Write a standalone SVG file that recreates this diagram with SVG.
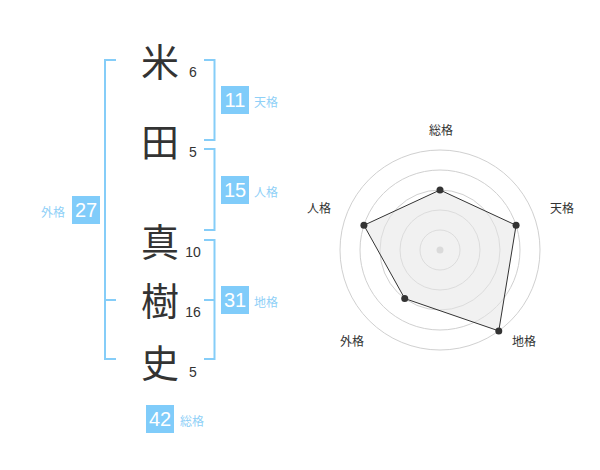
<svg xmlns="http://www.w3.org/2000/svg" width="600" height="470" viewBox="0 0 600 470">
<style>
.kanji{font-family:"Noto Sans CJK JP","Noto Sans CJK SC",sans-serif;font-size:38px;fill:#333;text-anchor:middle}
.stroke{font-family:"Liberation Sans",Arial,sans-serif;font-size:14px;fill:#333;text-anchor:middle}
.br{fill:none;stroke:#85cdf8;stroke-width:2}
.box{fill:#80ccfa}
.bnum{font-family:"Liberation Sans",Arial,sans-serif;font-size:20px;fill:#fff;text-anchor:middle}
.blab{font-family:"Noto Sans CJK JP",sans-serif;font-size:12px;fill:#8fd0f7}
.grid{fill:none;stroke:#d0d0d0;stroke-width:1}
.rlab{font-family:"Noto Sans CJK JP",sans-serif;font-size:12px;fill:#333;text-anchor:middle}
.dot{fill:#333}
</style>
<rect width="600" height="470" fill="#fff"/>
<g id="chars">
<g id="c1"><text class="kanji" x="160" y="75.5">米</text><text class="stroke" x="193" y="77">6</text></g>
<g id="c2"><text class="kanji" x="160" y="155.5">田</text><text class="stroke" x="193" y="157">5</text></g>
<g id="c3"><text class="kanji" x="160" y="255.5">真</text><text class="stroke" x="193" y="257">10</text></g>
<g id="c4"><text class="kanji" x="160" y="314.5">樹</text><text class="stroke" x="193" y="317">16</text></g>
<g id="c5"><text class="kanji" x="160" y="376.5">史</text><text class="stroke" x="193" y="377">5</text></g>
</g>
<g id="connectors">
<path class="br" d="M116,60 H105 V359 H116 M105,300 H116"/>
<path class="br" d="M204,60 H214.5 V140 H204"/>
<path class="br" d="M204,149 H214.5 V230 H204"/>
<path class="br" d="M204,240 H214.5 V359 H204 M204,300 H214.5"/>
</g>
<g id="tenkaku"><rect class="box" x="221" y="86" width="28" height="28"/><text class="bnum" x="235" y="107">11</text><text class="blab" x="254" y="107">天格</text></g>
<g id="jinkaku"><rect class="box" x="221" y="176" width="28" height="28"/><text class="bnum" x="235" y="197">15</text><text class="blab" x="254" y="197">人格</text></g>
<g id="chikaku"><rect class="box" x="221" y="286" width="28" height="28"/><text class="bnum" x="235" y="307">31</text><text class="blab" x="254" y="307">地格</text></g>
<g id="gaikaku"><rect class="box" x="72" y="196" width="28" height="28"/><text class="bnum" x="86" y="217">27</text><text class="blab" x="41" y="217">外格</text></g>
<g id="soukaku"><rect class="box" x="146" y="405" width="28" height="28"/><text class="bnum" x="160" y="426">42</text><text class="blab" x="180" y="426">総格</text></g>
<g id="radar">
<circle class="grid" cx="440" cy="250" r="20"/>
<circle class="grid" cx="440" cy="250" r="40"/>
<circle class="grid" cx="440" cy="250" r="60"/>
<circle class="grid" cx="440" cy="250" r="80"/>
<circle class="grid" cx="440" cy="250" r="100"/>
<circle cx="440" cy="250" r="3.5" fill="#ccc"/>
<polygon points="440,190 516.08,225.28 498.78,330.9 404.73,298.54 363.92,225.28" fill="#e6e6e6" fill-opacity="0.55" stroke="#333" stroke-width="1"/>
<circle class="dot" cx="440" cy="190" r="3.5"/>
<circle class="dot" cx="516.08" cy="225.28" r="3.5"/>
<circle class="dot" cx="498.78" cy="330.9" r="3.5"/>
<circle class="dot" cx="404.73" cy="298.54" r="3.5"/>
<circle class="dot" cx="363.92" cy="225.28" r="3.5"/>
<text class="rlab" x="441" y="135">総格</text>
<text class="rlab" x="562" y="213">天格</text>
<text class="rlab" x="524" y="346">地格</text>
<text class="rlab" x="352" y="346">外格</text>
<text class="rlab" x="319" y="213">人格</text>
</g>
</svg>
